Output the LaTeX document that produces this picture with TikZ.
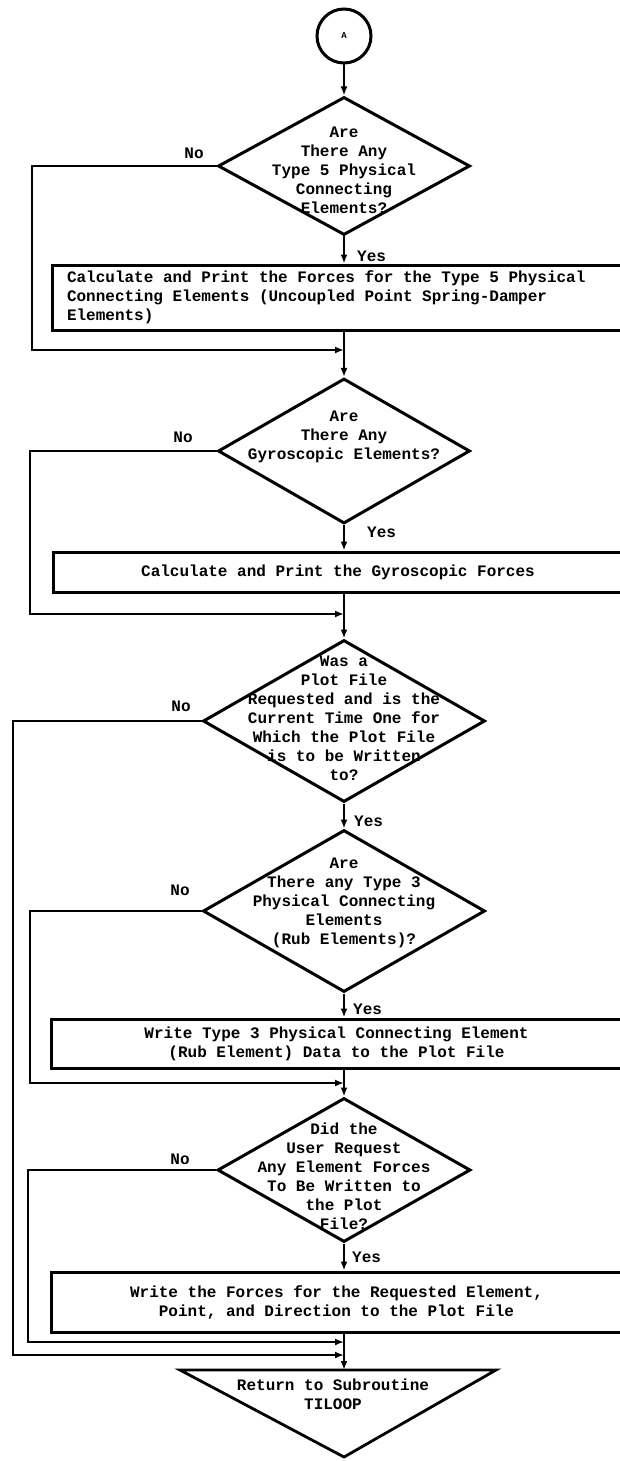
\documentclass[tikz,border=0pt]{standalone}
\usepackage{fontspec}
\setmainfont{Liberation Mono}[WordSpace={1,0,0}]
\usetikzlibrary{shapes.geometric, arrows.meta, positioning, calc}
\newcommand{\chartfont}{\fontsize{16}{19}\selectfont\bfseries}

\begin{document}
\begin{tikzpicture}[x=1pt, y=-1pt,
    line/.style={line width=2.8pt},
    flow/.style={line width=2.8pt, -{Latex[length=9pt, width=7pt]}},
    decision/.style={diamond, draw, line width=3pt, inner sep=0pt},
    procbox/.style={rectangle, draw, line width=3pt, minimum width=570pt, inner xsep=14pt, inner ysep=2pt, font=\chartfont},
    qtext/.style={align=center, font=\chartfont, inner sep=0pt},
    lbl/.style={font=\chartfont, inner sep=0pt}]
  \useasboundingbox (0,0) rectangle (619,1461);

  \node[circle, draw, line width=3pt, minimum size=54pt, inner sep=0pt,
    font=\fontsize{9}{10}\selectfont\bfseries] (A) at (344,36) {A};

  \node[decision, minimum width=252pt, minimum height=138pt] (d1) at (344,166) {};
  \node[qtext] (q1) at (344,170) {Are\\There Any\\Type 5 Physical\\Connecting\\Elements?};
  \node[procbox, minimum height=65pt, text width=541pt, align=flush left] (b1) at (337.5,297.5)
    {Calculate and Print the Forces for the Type 5 Physical\\Connecting Elements (Uncoupled Point Spring-Damper\\Elements)};

  \node[decision, minimum width=252pt, minimum height=145pt] (d2) at (344,451) {};
  \node[qtext] (q2) at (344,437) {Are\\There Any\\Gyroscopic Elements?};
  \node[procbox, minimum height=40pt, align=center] (b2) at (338,572)
    {Calculate and Print the Gyroscopic Forces};

  \node[decision, minimum width=282pt, minimum height=162pt] (d3) at (344,721) {};
  \node[qtext] (q3) at (344,718) {Was a\\Plot File\\Requested and is the\\Current Time One for\\Which the Plot File\\is to be Written\\to?};

  \node[decision, minimum width=282pt, minimum height=162pt] (d4) at (344,911) {};
  \node[qtext] (q4) at (344,903) {Are\\There any Type 3\\Physical Connecting\\Elements\\(Rub Elements)?};
  \node[procbox, minimum height=49pt, align=center] (b3) at (336.5,1043.5)
    {Write Type 3 Physical Connecting Element\\(Rub Element) Data to the Plot File};

  \node[decision, minimum width=253pt, minimum height=144pt] (d5) at (344,1170) {};
  \node[qtext] (q5) at (344,1176) {Did the\\User Request\\Any Element Forces\\To Be Written to\\the Plot\\File?};
  \node[procbox, minimum height=60pt, align=center] (b4) at (336.5,1302)
    {Write the Forces for the Requested Element,\\Point, and Direction to the Plot File};

  \coordinate (rtop) at (344,1370);
  \draw[line] (180,1370) -- (496,1370) -- (344,1457) -- cycle;
  \node[qtext] (ret) at (333,1394) {Return to Subroutine\\TILOOP};

  \draw[flow] (A) -- (d1);
  \draw[flow] (d1) -- (d1.south |- b1.north);
  \draw[flow] (b1.south -| d1.south) -- (d2);
  \draw[flow] (d2) -- (d2.south |- b2.north);
  \draw[flow] (b2.south -| d2.south) -- (d3);
  \draw[flow] (d3) -- (d4);
  \draw[flow] (d4) -- (d4.south |- b3.north);
  \draw[flow] (b3.south -| d4.south) -- (d5);
  \draw[flow] (d5) -- (d5.south |- b4.north);
  \draw[flow] (b4.south -| d5.south) -- (rtop);

  \foreach \d/\rx/\ry/\nx/\ny in {d1/32/350/194/153, d2/30/614/183/437,
      d3/13/1355/181/706, d4/30/1083/180/890, d5/28/1342/180/1159} {
    \coordinate (r\d) at (\rx,\ry);
    \coordinate (m\d) at (344,\ry);
    \draw[flow] (\d.west) -| (r\d) -- (m\d);
    \node[lbl] (no\d) at (\nx,\ny) {No};
  }

  \foreach \n/\yx/\yy in {1/357/256, 2/367/532, 3/354/821, 4/353/1009, 5/352/1257} {
    \node[lbl, anchor=west] (yes\n) at (\yx,\yy) {Yes};
  }
\end{tikzpicture}
\end{document}
